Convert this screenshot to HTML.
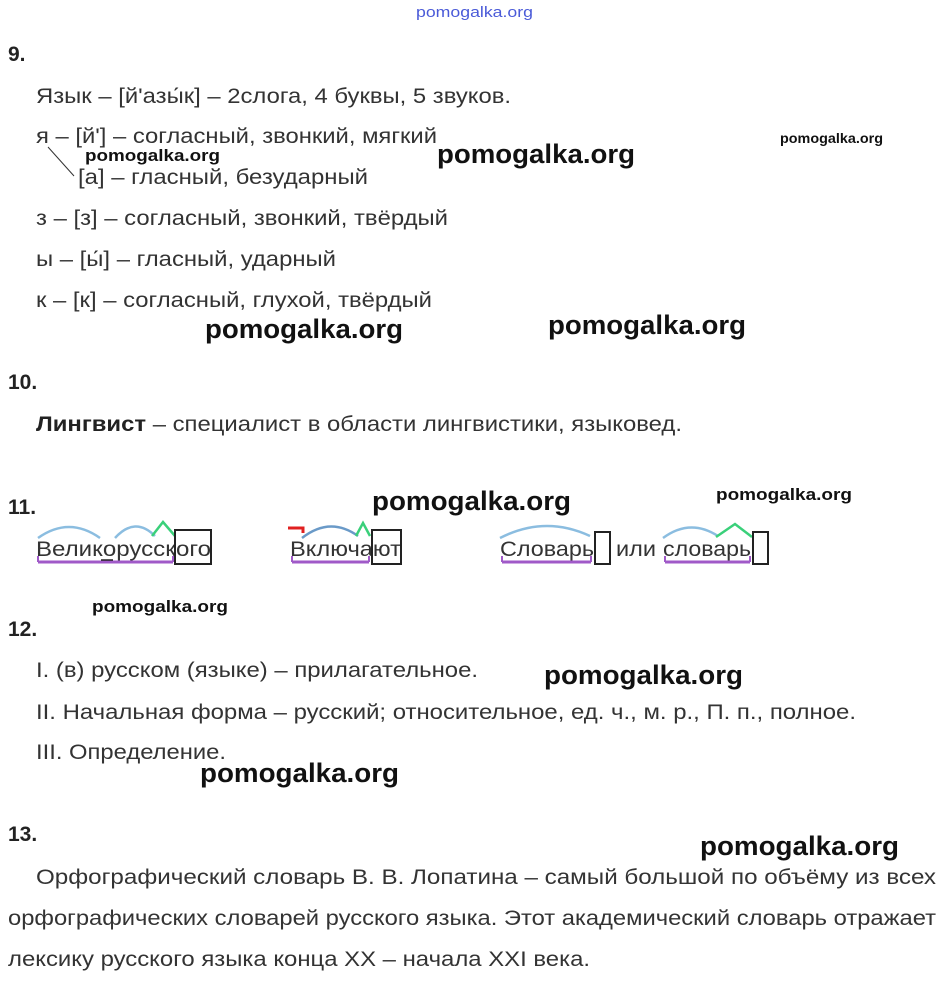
<!DOCTYPE html>
<html><head><meta charset="utf-8"><style>
html,body{margin:0;padding:0;background:#fff;}
svg{display:block;}
.t{font-family:"Liberation Sans",Arial,sans-serif;font-size:21px;fill:#333;}
.n{font-family:"Liberation Sans",Arial,sans-serif;font-size:21px;fill:#222;font-weight:bold;}
.w{font-family:"Liberation Sans",Arial,sans-serif;font-weight:bold;fill:#111;}
</style></head><body>
<svg width="946" height="983" viewBox="0 0 946 983" xmlns="http://www.w3.org/2000/svg">
<text x="416" y="17" font-family="Liberation Sans,sans-serif" font-size="15" fill="#4a5ad8" textLength="117" lengthAdjust="spacingAndGlyphs">pomogalka.org</text>

<text class="n" x="8" y="61">9.</text>
<text class="t" x="36" y="103" textLength="475" lengthAdjust="spacingAndGlyphs">Язык – [й'азы́к] – 2слога, 4 буквы, 5 звуков.</text>
<text class="t" x="36" y="143" textLength="401" lengthAdjust="spacingAndGlyphs">я – [й'] – согласный, звонкий, мягкий</text>
<line x1="48" y1="147" x2="74" y2="176" stroke="#333" stroke-width="1"/>
<text class="t" x="78" y="184" textLength="290" lengthAdjust="spacingAndGlyphs">[а] – гласный, безударный</text>
<text class="t" x="36" y="225" textLength="412" lengthAdjust="spacingAndGlyphs">з – [з] – согласный, звонкий, твёрдый</text>
<text class="t" x="36" y="266" textLength="300" lengthAdjust="spacingAndGlyphs">ы – [ы́] – гласный, ударный</text>
<text class="t" x="36" y="307" textLength="396" lengthAdjust="spacingAndGlyphs">к – [к] – согласный, глухой, твёрдый</text>

<text class="w" x="85" y="161" font-size="17" textLength="135" lengthAdjust="spacingAndGlyphs">pomogalka.org</text>
<text class="w" x="437" y="163" font-size="27" textLength="198" lengthAdjust="spacingAndGlyphs">pomogalka.org</text>
<text class="w" x="780" y="143" font-size="14" textLength="103" lengthAdjust="spacingAndGlyphs">pomogalka.org</text>
<text class="w" x="205" y="338" font-size="27" textLength="198" lengthAdjust="spacingAndGlyphs">pomogalka.org</text>
<text class="w" x="548" y="334" font-size="27" textLength="198" lengthAdjust="spacingAndGlyphs">pomogalka.org</text>

<text class="n" x="8" y="389">10.</text>
<text class="t" x="36" y="431" textLength="646" lengthAdjust="spacingAndGlyphs"><tspan font-weight="bold" fill="#222">Лингвист</tspan> – специалист в области лингвистики, языковед.</text>

<text class="n" x="8" y="514">11.</text>
<text class="w" x="372" y="510" font-size="27" textLength="199" lengthAdjust="spacingAndGlyphs">pomogalka.org</text>
<text class="w" x="716" y="500" font-size="17" textLength="136" lengthAdjust="spacingAndGlyphs">pomogalka.org</text>

<text class="t" x="36" y="556" textLength="175" lengthAdjust="spacingAndGlyphs">Великорусского</text>
<path d="M38 538 Q69 516 100 538" fill="none" stroke="#8bbde0" stroke-width="2.5"/>
<path d="M115 538 Q135 516 155 536" fill="none" stroke="#8bbde0" stroke-width="2.5"/>
<polyline points="152,536 163,522 175,536" fill="none" stroke="#3ad07a" stroke-width="2.5"/>
<rect x="175" y="530" width="36" height="34" fill="none" stroke="#222" stroke-width="2"/>
<line x1="38" y1="562" x2="173" y2="562" stroke="#a05ac8" stroke-width="3"/>
<line x1="38" y1="562" x2="38" y2="556" stroke="#a05ac8" stroke-width="2"/>
<line x1="173" y1="562" x2="173" y2="556" stroke="#a05ac8" stroke-width="2"/>
<line x1="101" y1="560" x2="113" y2="560" stroke="#222" stroke-width="1.5"/>

<text class="t" x="290" y="556" textLength="111" lengthAdjust="spacingAndGlyphs">Включают</text>
<polyline points="288,528 303,528 303,533" fill="none" stroke="#e02020" stroke-width="3"/>
<path d="M302 538 Q330 516 358 536" fill="none" stroke="#6a9ac8" stroke-width="2.5"/>
<polyline points="356,536 363,523 370,536" fill="none" stroke="#3ad07a" stroke-width="2.5"/>
<rect x="372" y="530" width="29" height="34" fill="none" stroke="#222" stroke-width="2"/>
<line x1="292" y1="562" x2="369" y2="562" stroke="#a05ac8" stroke-width="3"/>
<line x1="292" y1="562" x2="292" y2="556" stroke="#a05ac8" stroke-width="2"/>
<line x1="369" y1="562" x2="369" y2="556" stroke="#a05ac8" stroke-width="2"/>

<text class="t" x="500" y="556" textLength="94" lengthAdjust="spacingAndGlyphs">Словарь</text>
<path d="M500 538 Q545 515 590 536" fill="none" stroke="#8bbde0" stroke-width="2.5"/>
<rect x="595" y="532" width="15" height="32" fill="none" stroke="#222" stroke-width="2"/>
<line x1="502" y1="562" x2="591" y2="562" stroke="#a05ac8" stroke-width="3"/>
<line x1="502" y1="562" x2="502" y2="556" stroke="#a05ac8" stroke-width="2"/>
<line x1="591" y1="562" x2="591" y2="556" stroke="#a05ac8" stroke-width="2"/>
<text class="t" x="616" y="556" textLength="40" lengthAdjust="spacingAndGlyphs">или</text>
<text class="t" x="663" y="556" textLength="88" lengthAdjust="spacingAndGlyphs">словарь</text>
<path d="M663 538 Q690 518 718 536" fill="none" stroke="#8bbde0" stroke-width="2.5"/>
<polyline points="716,537 735,524 752,537" fill="none" stroke="#3ad07a" stroke-width="2.5"/>
<rect x="753" y="532" width="15" height="32" fill="none" stroke="#222" stroke-width="2"/>
<line x1="665" y1="562" x2="750" y2="562" stroke="#a05ac8" stroke-width="3"/>
<line x1="665" y1="562" x2="665" y2="556" stroke="#a05ac8" stroke-width="2"/>
<line x1="750" y1="562" x2="750" y2="556" stroke="#a05ac8" stroke-width="2"/>

<text class="w" x="92" y="612" font-size="17" textLength="136" lengthAdjust="spacingAndGlyphs">pomogalka.org</text>
<text class="n" x="8" y="636">12.</text>
<text class="t" x="36" y="677" textLength="442" lengthAdjust="spacingAndGlyphs">I. (в) русском (языке) – прилагательное.</text>
<text class="w" x="544" y="684" font-size="27" textLength="199" lengthAdjust="spacingAndGlyphs">pomogalka.org</text>
<text class="t" x="36" y="719" textLength="820" lengthAdjust="spacingAndGlyphs">II. Начальная форма – русский; относительное, ед. ч., м. р., П. п., полное.</text>
<text class="t" x="36" y="759" textLength="190" lengthAdjust="spacingAndGlyphs">III. Определение.</text>
<text class="w" x="200" y="782" font-size="27" textLength="199" lengthAdjust="spacingAndGlyphs">pomogalka.org</text>

<text class="n" x="8" y="841">13.</text>
<text class="w" x="700" y="855" font-size="27" textLength="199" lengthAdjust="spacingAndGlyphs">pomogalka.org</text>
<text class="t" x="36" y="884" textLength="900" lengthAdjust="spacingAndGlyphs">Орфографический словарь В. В. Лопатина – самый большой по объёму из всех</text>
<text class="t" x="8" y="925" textLength="928" lengthAdjust="spacingAndGlyphs">орфографических словарей русского языка. Этот академический словарь отражает</text>
<text class="t" x="8" y="966" textLength="582" lengthAdjust="spacingAndGlyphs">лексику русского языка конца XX – начала XXI века.</text>
</svg>
</body></html>
